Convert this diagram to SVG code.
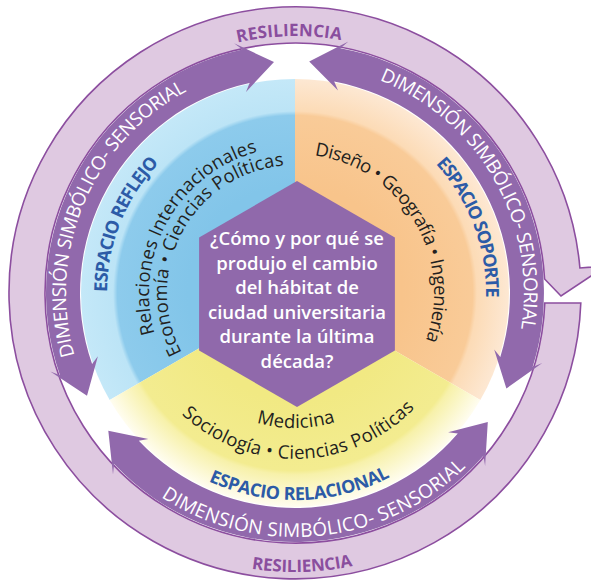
<svg xmlns="http://www.w3.org/2000/svg" width="591" height="580" viewBox="0 0 591 580">
<style>
text{font-family:"Open Sans","Liberation Sans",sans-serif}
.res{font-size:17px;font-weight:700;fill:#8A4E9E}
.dim{font-size:19px;font-weight:400;fill:#ffffff}
.esp{font-size:18px;font-weight:700;fill:#2C5BA7}
.dis{font-size:18.5px;font-weight:400;fill:#231F20}
.q{font-size:18.5px;font-weight:600;fill:#ffffff;text-anchor:middle}
.arrow{fill:#9169AC}
</style>
<defs>
<radialGradient id="gBlue" gradientUnits="userSpaceOnUse" cx="295" cy="293" r="214">
<stop offset="0.5" stop-color="#82C5E9"/><stop offset="0.83" stop-color="#8DCBEC"/><stop offset="0.85" stop-color="#BCE4F6"/><stop offset="1" stop-color="#C4E8F8"/>
</radialGradient>
<radialGradient id="gOrange" gradientUnits="userSpaceOnUse" cx="295" cy="293" r="214">
<stop offset="0.5" stop-color="#F8C48B"/><stop offset="0.83" stop-color="#F9CB98"/><stop offset="0.85" stop-color="#FCDBB6"/><stop offset="1" stop-color="#FDE8D3"/>
</radialGradient>
<radialGradient id="gYellow" gradientUnits="userSpaceOnUse" cx="295" cy="293" r="214">
<stop offset="0.5" stop-color="#F1E983"/><stop offset="0.83" stop-color="#F3EC90"/><stop offset="0.85" stop-color="#F7F1AA"/><stop offset="1" stop-color="#FFFDF0"/>
</radialGradient>
<path id="pResTop" d="M69.6,169.6 A257,257 0 0 1 514.6,159.5"/>
<path id="pResBot" d="M57.1,438.8 A279,279 0 0 0 540.2,426.1"/>
<path id="pDimL" d="M112.1,430.8 A229,229 0 0 1 267.1,65.7"/>
<path id="pDimR" d="M296.4,64.0 A229,229 0 0 1 492.6,408.7"/>
<path id="pDimB" d="M96.6,435.0 A244,244 0 0 0 517.2,393.8"/>
<path id="pEspL" d="M146.9,408.7 A188,188 0 0 1 268.8,106.8"/>
<path id="pEspR" d="M326.2,104.6 A191,191 0 0 1 442.6,414.2"/>
<path id="pEspB" d="M118.2,400.7 A207,207 0 0 0 476.7,392.3"/>
<path id="pRel" d="M169.2,367.1 A146,146 0 0 1 293.7,147.0"/>
<path id="pEco" d="M185.8,359.7 A128,128 0 0 1 291.9,165.0"/>
<path id="pDis" d="M292.6,154.0 A139,139 0 0 1 416.6,360.4"/>
<path id="pMed" d="M178.6,361.5 A135,135 0 0 0 412.5,359.5"/>
<path id="pSoc" d="M153.5,379.7 A166,166 0 0 0 440.9,372.2"/>
</defs>

<g id="sector-reflejo">
<path d="M295,293 L295,79 A214,214 0 0 0 109.7,400 Z" fill="url(#gBlue)"/>
<text class="esp" text-anchor="middle" textLength="142" lengthAdjust="spacing"><textPath href="#pEspL" startOffset="50%">ESPACIO REFLEJO</textPath></text>
<text class="dis" text-anchor="middle" textLength="232" lengthAdjust="spacing"><textPath href="#pRel" startOffset="50%">Relaciones Internacionales</textPath></text>
<text class="dis" text-anchor="middle" textLength="252" lengthAdjust="spacing"><textPath href="#pEco" startOffset="50%">Economía • Ciencias Políticas</textPath></text>
</g>

<g id="sector-soporte">
<path d="M295,293 L295,79 A214,214 0 0 1 480.3,400 Z" fill="url(#gOrange)"/>
<text class="esp" text-anchor="middle" textLength="146" lengthAdjust="spacing"><textPath href="#pEspR" startOffset="50%">ESPACIO SOPORTE</textPath></text>
<text class="dis" text-anchor="middle" textLength="247" lengthAdjust="spacing"><textPath href="#pDis" startOffset="50%">Diseño • Geografía • Ingeniería</textPath></text>
</g>

<g id="sector-relacional">
<path d="M295,293 L480.3,400 A214,214 0 0 1 109.7,400 Z" fill="url(#gYellow)"/>
<text class="esp" text-anchor="middle" textLength="188" lengthAdjust="spacing"><textPath href="#pEspB" startOffset="50%">ESPACIO RELACIONAL</textPath></text>
<text class="dis" text-anchor="middle" textLength="80" lengthAdjust="spacing"><textPath href="#pMed" startOffset="50%">Medicina</textPath></text>
<text class="dis" text-anchor="middle" textLength="258" lengthAdjust="spacing"><textPath href="#pSoc" startOffset="50%">Sociología • Ciencias Políticas</textPath></text>
</g>

<g id="hexagon-question">
<polygon points="297,181 394.9,237.5 394.9,350.5 297,407 199.1,350.5 199.1,237.5" fill="#9069AB"/>
<text class="q" x="297" y="245">¿Cómo y por qué se</text>
<text class="q" x="297" y="269.5">produjo el cambio</text>
<text class="q" x="297" y="294">del hábitat de</text>
<text class="q" x="297" y="318.5">ciudad universitaria</text>
<text class="q" x="297" y="343">durante la última</text>
<text class="q" x="297" y="367.5">década?</text>
</g>

<g id="ring-resiliencia">
<path d="M580.8,303 A286,286 0 1 1 579.9,268 L606,266 L561,296 L544.6,279 A250,250 0 1 0 544.8,303 Z" fill="#DFC9E1" stroke="#8C4E9F" stroke-width="1.6" stroke-linejoin="miter"/>
<text class="res" text-anchor="middle" textLength="104" lengthAdjust="spacing"><textPath href="#pResTop" startOffset="50%">RESILIENCIA</textPath></text>
<text class="res" text-anchor="middle" textLength="102" lengthAdjust="spacing"><textPath href="#pResBot" startOffset="50%">RESILIENCIA</textPath></text>
</g>

<g id="connectors">
<path id="arrow-right" class="arrow" d="M309.2,61.4 L348.4,41.6 L340.4,48.2 A249,249 0 0 1 532.7,367.0 L542.3,363.0 L506.4,388.5 L494.2,349.4 L500.3,356.9 A215,215 0 0 0 334.2,81.6 L338.0,90.5 Z"/>
<path id="arrow-left" class="arrow" d="M87.0,395.8 L50.3,371.6 L60.0,375.3 A249,249 0 0 1 242.4,49.6 L234.1,43.3 L274.0,62.0 L246.0,91.9 L249.6,82.9 A215,215 0 0 0 92.1,364.1 L97.9,356.3 Z"/>
<path id="arrow-bottom" class="arrow" d="M487.8,422.1 L485.1,466.0 L483.5,455.7 A249,249 0 0 1 114.1,464.1 L113.0,474.4 L108.3,430.7 L148.4,439.1 L138.8,440.8 A215,215 0 0 0 457.8,433.5 L448.1,432.3 Z"/>
<text class="dim" text-anchor="middle" textLength="310" lengthAdjust="spacing"><textPath href="#pDimL" startOffset="50%">DIMENSIÓN SIMBÓLICO- SENSORIAL</textPath></text>
<text class="dim" text-anchor="middle" textLength="309" lengthAdjust="spacing"><textPath href="#pDimR" startOffset="50%">DIMENSIÓN SIMBÓLICO- SENSORIAL</textPath></text>
<text class="dim" text-anchor="middle" textLength="331" lengthAdjust="spacing"><textPath href="#pDimB" startOffset="50%">DIMENSIÓN SIMBÓLICO- SENSORIAL</textPath></text>
</g>
</svg>
